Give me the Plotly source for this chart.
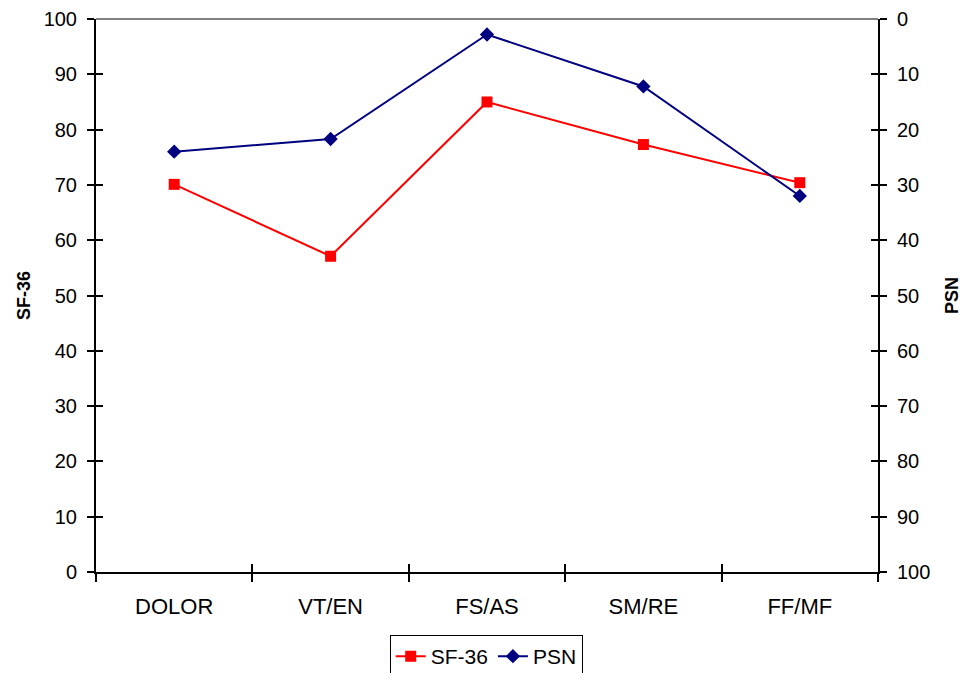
import plotly.graph_objects as go

categories = ["DOLOR", "VT/EN", "FS/AS", "SM/RE", "FF/MF"]
sf36 = [70.1, 57.1, 85.0, 77.3, 70.4]
psn = [24.0, 21.7, 2.8, 12.2, 32.0]

font = "Liberation Sans, Arial, sans-serif"

fig = go.Figure()
fig.add_trace(go.Scatter(
    x=categories, y=sf36, name="SF-36", mode="lines+markers",
    line=dict(color="#FF0000", width=2),
    marker=dict(symbol="square", size=11, color="#FF0000"),
    yaxis="y",
))
fig.add_trace(go.Scatter(
    x=categories, y=psn, name="PSN", mode="lines+markers",
    line=dict(color="#000080", width=2),
    marker=dict(symbol="diamond", size=11, color="#000080"),
    yaxis="y2",
))

tickfont = dict(family=font, size=20, color="black")
catfont = dict(family=font, size=22, color="black")
titlefont = dict(family=font, size=18, color="black")

fig.update_layout(
    width=964, height=673,
    margin=dict(l=96, r=86, t=19, b=101, autoexpand=False),
    paper_bgcolor="white", plot_bgcolor="white",
    showlegend=True,
    legend=dict(
        orientation="h", x=0.499, xanchor="center", y=-0.114, yanchor="top",
        bordercolor="black", borderwidth=1,
        font=dict(family=font, size=21, color="black"),
        tracegroupgap=0,
    ),
    xaxis=dict(
        type="category", tickson="boundaries", ticks="outside", ticklen=8,
        tickwidth=2, tickcolor="black", showline=True, linecolor="black",
        linewidth=2, showgrid=False, zeroline=False,
        tickfont=catfont, range=[-0.5, 4.5], ticklabelstandoff=14,
    ),
    yaxis=dict(
        range=[0, 100], dtick=10, ticks="outside", ticklen=7, tickwidth=2,
        tickcolor="black", showline=True, linecolor="black", linewidth=2,
        showgrid=False, zeroline=False, tickfont=tickfont, ticklabelstandoff=6,
        title=dict(text="<b>SF-36</b>", font=titlefont, standoff=8),
    ),
    yaxis2=dict(
        range=[100, 0], dtick=10, overlaying="y", side="right",
        ticks="outside", ticklen=7, tickwidth=2, tickcolor="black",
        showline=True, linecolor="black", linewidth=2,
        showgrid=False, zeroline=False, tickfont=tickfont, ticklabelstandoff=6,
        title=dict(text="<b>PSN</b>", font=titlefont, standoff=16),
    ),
    # inner halves of the crossing tick marks
    yaxis3=dict(
        range=[0, 100], dtick=10, overlaying="y", side="left",
        ticks="inside", ticklen=7, tickwidth=2, tickcolor="black",
        showticklabels=False, showline=False, showgrid=False, zeroline=False,
    ),
    yaxis4=dict(
        range=[100, 0], dtick=10, overlaying="y", side="right",
        ticks="inside", ticklen=7, tickwidth=2, tickcolor="black",
        showticklabels=False, showline=False, showgrid=False, zeroline=False,
    ),
    xaxis2=dict(
        type="category", tickson="boundaries", overlaying="x", side="bottom",
        ticks="inside", ticklen=8, tickwidth=2, tickcolor="black",
        showticklabels=False, showline=False, showgrid=False, zeroline=False,
        range=[-0.5, 4.5], anchor="y",
    ),
    shapes=[dict(type="line", xref="paper", yref="paper", x0=0, x1=1, y0=1, y1=1,
                 line=dict(color="#808080", width=2))],
)

# invisible helpers so the overlay axes are drawn
fig.add_trace(go.Scatter(x=categories, y=sf36, yaxis="y3", xaxis="x2",
                         mode="markers", marker=dict(opacity=0), showlegend=False,
                         hoverinfo="skip"))
fig.add_trace(go.Scatter(x=categories, y=psn, yaxis="y4",
                         mode="markers", marker=dict(opacity=0), showlegend=False,
                         hoverinfo="skip"))

fig.write_html("out.html")
